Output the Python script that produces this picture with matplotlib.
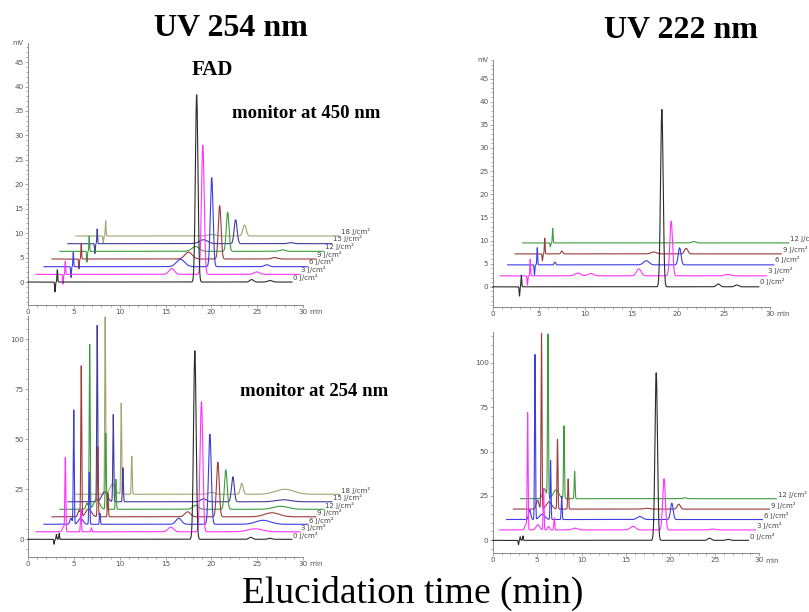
#!/usr/bin/env python3
"""Stacked HPLC chromatograms of FAD after UV irradiation (254 nm / 222 nm)."""

import numpy as np
import matplotlib

matplotlib.use("Agg")
import matplotlib.pyplot as plt
from matplotlib.ticker import MultipleLocator

plt.rcParams.update(
    {
        "font.family": "sans-serif",
        "font.sans-serif": ["DejaVu Sans"],
        "axes.spines.top": False,
        "axes.spines.right": False,
        "axes.facecolor": "none",
        "figure.facecolor": "white",
        "savefig.facecolor": "white",
    }
)

W, H = 809, 612
SERIF = "Liberation Serif"

doses_254 = ["0 J/cm²", "3 J/cm²", "6 J/cm²", "9 J/cm²", "12 J/cm²", "15 J/cm²", "18 J/cm²"]
doses_222 = doses_254[:5]
trace_colors = ["#2b2b2b", "#ff33ff", "#3d3de6", "#9c3b3b", "#3c9c3c", "#3d3d9c", "#a3a373"]

run_end = 28.8  # min, length of each recorded run

# peak tables per trace: (retention time [min], height [mV], width sigma [min])
peaks_254_vis = [
    [(2.95, -2.0, 0.04), (3.2, 2.5, 0.04), (18.4, 38.3, 0.14), (24.4, 0.5, 0.2), (26.4, 0.3, 0.25)],
    [(2.95, -2.0, 0.04), (3.2, 2.7, 0.04), (14.8, 1.2, 0.3), (18.2, 26.4, 0.15), (24.1, 0.5, 0.3)],
    [(2.95, -2.2, 0.04), (3.2, 2.9, 0.04), (14.9, 1.5, 0.45), (18.3, 18.2, 0.15), (24.3, 0.4, 0.25)],
    [(2.95, -2.0, 0.04), (3.2, 3.1, 0.04), (14.9, 1.4, 0.4), (18.3, 10.9, 0.15), (24.3, 0.3, 0.3)],
    [(2.95, -2.2, 0.04), (3.2, 3.1, 0.04), (14.8, 1.0, 0.4), (18.3, 8.0, 0.15), (24.3, 0.3, 0.3)],
    [(2.95, -2.0, 0.04), (3.2, 3.0, 0.04), (14.8, 0.8, 0.45), (18.3, 4.9, 0.16), (24.3, 0.2, 0.3)],
    [(3.0, -1.4, 0.04), (3.25, 3.1, 0.04), (14.8, 0.3, 0.4), (18.4, 2.25, 0.18)],
]

peaks_254_uv = [
    [(2.85, -2.5, 0.04), (3.1, 2.5, 0.04), (3.4, 3.0, 0.04), (18.2, 94.2, 0.14), (24.3, 1.0, 0.2), (26.4, 0.5, 0.2)],
    [(3.0, 2.5, 0.12), (3.2, 36.5, 0.05), (4.9, 11.0, 0.05), (6.05, 2.0, 0.05), (14.7, 2.3, 0.3),
     (18.05, 65.0, 0.15), (23.9, 1.5, 0.8)],
    [(2.95, 3.0, 0.12), (3.25, 57.0, 0.05), (4.0, 3.0, 0.25), (4.95, 26.0, 0.05), (6.1, 5.5, 0.05),
     (14.7, 3.0, 0.3), (18.1, 45.0, 0.15), (23.9, 2.0, 0.8)],
    [(2.95, 3.0, 0.12), (3.2, 75.0, 0.05), (4.0, 4.0, 0.3), (5.0, 35.0, 0.05), (6.1, 12.0, 0.05),
     (14.8, 2.5, 0.3), (18.1, 27.3, 0.15), (24.0, 2.0, 0.8)],
    [(2.95, 3.0, 0.12), (3.25, 82.0, 0.05), (4.0, 5.0, 0.3), (5.0, 38.0, 0.05), (6.1, 15.0, 0.05),
     (14.8, 2.0, 0.3), (18.1, 19.7, 0.15), (24.1, 1.5, 0.8)],
    [(3.2, 88.0, 0.05), (4.0, 5.0, 0.3), (4.95, 43.5, 0.05), (6.0, 17.0, 0.05),
     (14.8, 1.5, 0.3), (18.0, 12.5, 0.15), (23.5, 1.0, 0.8)],
    [(3.2, 88.5, 0.05), (4.0, 5.0, 0.3), (4.95, 45.5, 0.05), (6.1, 19.0, 0.05),
     (14.8, 1.0, 0.3), (18.1, 5.5, 0.15), (22.8, 2.5, 1.0)],
]

peaks_222_vis = [
    [(2.9, -2.0, 0.04), (3.1, 2.5, 0.04), (18.3, 38.3, 0.14), (24.4, 0.6, 0.2), (26.4, 0.4, 0.2)],
    [(2.95, -2.0, 0.04), (3.25, 3.6, 0.04), (8.4, 0.6, 0.3), (9.8, 0.5, 0.3), (15.0, 1.5, 0.25),
     (18.5, 11.8, 0.15), (24.6, 0.3, 0.3)],
    [(2.9, -2.2, 0.04), (3.2, 3.7, 0.04), (5.1, 0.6, 0.08), (15.0, 0.9, 0.3), (18.6, 3.7, 0.15)],
    [(2.95, -1.5, 0.04), (3.2, 3.4, 0.04), (5.05, 0.6, 0.1), (15.0, 0.4, 0.3), (18.5, 1.2, 0.18)],
    [(3.0, -0.8, 0.04), (3.25, 3.1, 0.04), (18.5, 0.3, 0.2)],
]

peaks_222_uv = [
    [(2.9, -2.5, 0.04), (3.1, 2.0, 0.04), (3.4, 2.5, 0.04), (18.4, 94.4, 0.14), (24.4, 1.2, 0.2), (26.5, 0.6, 0.2)],
    [(2.95, 3.0, 0.12), (3.15, 65.4, 0.05), (4.3, 3.0, 0.2), (4.95, 23.5, 0.05), (5.5, 2.0, 0.1),
     (6.15, 6.8, 0.05), (8.5, 1.0, 0.3), (15.0, 2.0, 0.3), (18.5, 28.8, 0.15), (24.0, 0.5, 0.3)],
    [(2.6, 5.5, 0.12), (3.2, 92.9, 0.05), (4.0, 3.0, 0.3), (4.95, 33.3, 0.05), (6.2, 13.0, 0.05),
     (15.0, 1.7, 0.3), (18.6, 9.2, 0.15)],
    [(2.7, 5.0, 0.15), (3.15, 99.0, 0.05), (4.0, 4.0, 0.3), (4.95, 39.3, 0.05), (6.15, 17.0, 0.05),
     (15.0, 0.5, 0.3), (18.6, 2.8, 0.17)],
    [(2.7, 5.5, 0.2), (3.1, 92.0, 0.05), (4.0, 5.0, 0.3), (4.9, 41.0, 0.05), (6.1, 15.4, 0.05),
     (18.5, 0.5, 0.2)],
]


def box(left, top, right, bottom):
    """Pixel rectangle -> figure fraction [l, b, w, h]."""
    return [left / W, 1 - bottom / H, (right - left) / W, (bottom - top) / H]


def chromatogram(t, peaks):
    y = np.zeros_like(t)
    for rt, h, s in peaks:
        y += h * np.exp(-0.5 * ((t - rt) / s) ** 2)
    return y


def draw_panel(ax, peaks, labels, dx, dy, ylim, ymajor, mv_label):
    t = np.arange(0, run_end, 0.01)
    n = len(peaks)
    for k in reversed(range(n)):
        y = chromatogram(t, peaks[k])
        ax.plot(t + k * dx, y + k * dy, color=trace_colors[k], lw=0.8,
                clip_on=False, zorder=3 + n - k)
        ax.text(run_end + k * dx + 0.15, k * dy + 0.3, labels[k], fontsize=5,
                color="#444444", ha="left", va="bottom", clip_on=False)

    ax.set_xlim(0, 30)
    ax.set_ylim(*ylim)
    ax.xaxis.set_major_locator(MultipleLocator(5))
    ax.xaxis.set_minor_locator(MultipleLocator(1))
    ax.yaxis.set_major_locator(MultipleLocator(ymajor))
    ax.yaxis.set_minor_locator(MultipleLocator(ymajor / 5))
    for side in ("left", "bottom"):
        ax.spines[side].set_color("#8a8a8a")
        ax.spines[side].set_linewidth(0.7)
    ax.tick_params(which="both", direction="out", color="#8a8a8a", width=0.5,
                   labelsize=5.2, labelcolor="#555555", pad=0.8)
    ax.tick_params(which="major", length=2.2)
    ax.tick_params(which="minor", length=1.3)
    ax.annotate("min", xy=(30, 0), xycoords=("data", "axes fraction"),
                xytext=(4.5, -3.2), textcoords="offset points",
                fontsize=5.2, color="#555555", ha="left", va="top")
    if mv_label:
        ax.annotate("mV", xy=(0, 1), xycoords="axes fraction",
                    xytext=(-3, 0), textcoords="offset points",
                    fontsize=4.8, color="#555555", ha="right", va="center")


fig = plt.figure(figsize=(W / 100, H / 100), dpi=100)

ax_tl = fig.add_axes(box(28, 43, 303, 305))
draw_panel(ax_tl, peaks_254_vis, doses_254, 0.87, 1.57, (-4.7, 48.9), 5, True)

ax_bl = fig.add_axes(box(28, 316, 303, 556.7))
draw_panel(ax_bl, peaks_254_uv, doses_254, 0.87, 3.75, (-8.7, 111.6), 25, False)

ax_tr = fig.add_axes(box(492.7, 60, 770, 306.7))
draw_panel(ax_tr, peaks_222_vis, doses_222, 0.81, 2.37, (-4.3, 49.0), 5, True)

ax_br = fig.add_axes(box(492.7, 331.7, 759.3, 553.3))
draw_panel(ax_br, peaks_222_uv, doses_222, 0.78, 5.87, (-7.3, 117.6), 25, False)

# headings and annotations
fig.text(231 / W, 1 - 29 / H, "UV 254 nm", family=SERIF, weight="bold", size=23,
         ha="center", va="center")
fig.text(681 / W, 1 - 30 / H, "UV 222 nm", family=SERIF, weight="bold", size=23,
         ha="center", va="center")
fig.text(212 / W, 1 - 70 / H, "FAD", family=SERIF, weight="bold", size=15,
         ha="center", va="center")
fig.text(306 / W, 1 - 114 / H, "monitor at 450 nm", family=SERIF, weight="bold",
         size=13.5, ha="center", va="center")
fig.text(314 / W, 1 - 391 / H, "monitor at 254 nm", family=SERIF, weight="bold",
         size=13.5, ha="center", va="center")
fig.text(413 / W, 1 - 593 / H, "Elucidation time (min)", family=SERIF, size=27,
         ha="center", va="center")

fig.savefig("out.png", dpi=100)
plt.close(fig)
